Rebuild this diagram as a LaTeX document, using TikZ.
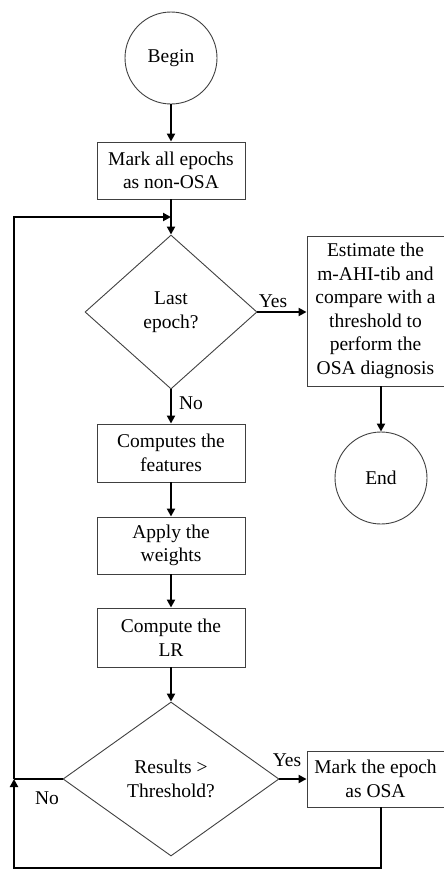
\documentclass[tikz,border=0pt]{standalone}
\usepackage{fontspec}
\setmainfont{Liberation Serif}
\usetikzlibrary{shapes.geometric,arrows.meta}
\begin{document}
\begin{tikzpicture}[x=1pt,y=-1pt,
  every node/.style={font=\fontsize{19.5}{23.5}\selectfont, text=black},
  boxst/.style={draw=black!75, line width=0.9pt, rectangle, inner sep=0pt, align=center},
  circst/.style={draw=black!75, line width=0.9pt, circle, inner sep=0pt, minimum size=92pt},
  diast/.style={draw=black!75, line width=0.9pt, diamond, inner sep=0pt, align=center},
  conn/.style={line width=2.2pt, -{Triangle[width=8pt,length=8pt]}},
  lineonly/.style={line width=2.2pt},
  lab/.style={inner sep=0pt}]
\useasboundingbox (0,0) rectangle (444,870);
\node[circst] (begin) at (171,58) {Begin};
\node[boxst, minimum width=148pt, minimum height=57pt] (mark0) at (171,170.5) {Mark all epochs\\as non-OSA};
\node[diast, minimum width=172pt, minimum height=154pt] (last) at (171,312) {Last\\epoch?};
\node[boxst, minimum width=137pt, minimum height=150pt] (est) at (375.5,311) {Estimate the\\m-AHI-tib and\\compare with a\\threshold to\\perform the\\OSA diagnosis};
\node[circst] (end) at (381,478) {End};
\node[boxst, minimum width=148pt, minimum height=58pt] (feat) at (171,453) {Computes the\\features};
\node[boxst, minimum width=148pt, minimum height=57pt] (wts) at (171,545.5) {Apply the\\weights};
\node[boxst, minimum width=148pt, minimum height=59pt] (lr) at (171,637.5) {Compute the\\LR};
\node[diast, minimum width=216pt, minimum height=154pt] (thr) at (171,779) {Results >\\Threshold?};
\node[boxst, minimum width=137pt, minimum height=56pt] (osa) at (375.5,779) {Mark the epoch\\as OSA};
\coordinate (entry) at (171,217);
\coordinate (loopl) at (14,779);
\coordinate (bot) at (14,868);
\node[lab] (yes1) at (273,301) {Yes};
\node[lab] (no1) at (191,403) {No};
\node[lab] (yes2) at (287,760) {Yes};
\node[lab] (no2) at (47,798) {No};
\draw[conn] (begin) -- (mark0);
\draw[conn] (mark0) -- (last);
\draw[conn] (last.east) -- (est.west |- last.east);
\draw[conn] (est.south -| end) -- (end);
\draw[conn] (last) -- (feat);
\draw[conn] (feat) -- (wts);
\draw[conn] (wts) -- (lr);
\draw[conn] (lr) -- (thr);
\draw[conn] (thr.east) -- (osa.west |- thr.east);
\draw[lineonly] (thr.west) -- (loopl);
\draw[conn] (loopl) |- (entry);
\draw[conn] (osa.south -| end) |- (bot) -- (loopl);
\end{tikzpicture}
\end{document}
